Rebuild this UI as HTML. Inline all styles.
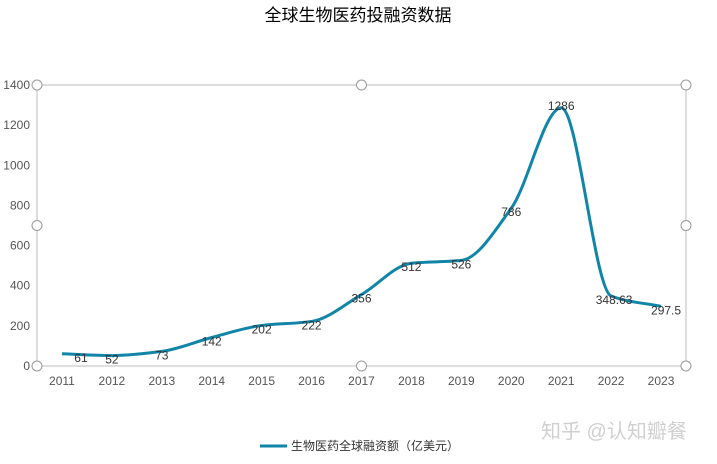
<!DOCTYPE html>
<html><head><meta charset="utf-8"><style>
body{margin:0;background:#fff;}
svg text{font-family:"Liberation Sans","Noto Sans CJK SC",sans-serif;}
</style></head><body>
<svg width="717" height="459" id="c">
<text x="358" y="21" text-anchor="middle" font-size="17" fill="#000">全球生物医药投融资数据</text>
<g id="axes"></g>
<path id="line" fill="none" stroke="#1185a8" stroke-width="3"/>
<g id="labels"></g>
<g>
<line x1="260" y1="446" x2="287" y2="446" stroke="#1185a8" stroke-width="3"/>
<text x="291" y="450" font-size="12" fill="#333">生物医药全球融资额（亿美元）</text>
</g>
<text x="541" y="438" font-size="20" fill="#d0d0d0">知乎 @认知瓣餐</text>
</svg>
<script>
const categories=["2011","2012","2013","2014","2015","2016","2017","2018","2019","2020","2021","2022","2023"];
const values=[61,52,73,142,202,222,356,512,526,786,1286,348.63,297.5];
const valueLabels=["61","52","73","142","202","222","356","512","526","786","1286","348.63","297.5"];
const yTicks=[0,200,400,600,800,1000,1200,1400];
const L=37,R=686,T=85,B=366,yMax=1400;
const ns="http://www.w3.org/2000/svg";
const bw=(R-L)/categories.length;
const xs=i=>L+bw*(i+0.5);
const ys=v=>B-(v/yMax)*(B-T);
function mk(t,a,p){const e=document.createElementNS(ns,t);for(const k in a)e.setAttribute(k,a[k]);p.appendChild(e);return e;}
const ax=document.getElementById('axes');
const frame=mk('rect',{x:L,y:T,width:R-L,height:B-T,fill:'none',stroke:'#bbb','stroke-width':1},ax);


yTicks.forEach(v=>{const t=mk('text',{x:L-7,y:ys(v)+4,'text-anchor':'end','font-size':12,fill:'#555'},ax);t.textContent=v;

});
categories.forEach((c,i)=>{const t=mk('text',{x:xs(i),y:385,'text-anchor':'middle','font-size':12,fill:'#555'},ax);t.textContent=c;

});
[[L,T],[(L+R)/2,T],[R,T],[L,(T+B)/2],[R,(T+B)/2],[L,B],[(L+R)/2,B],[R,B]].forEach(p=>{const h=mk('circle',{cx:p[0],cy:p[1],r:5,fill:'#fff',stroke:'#999','stroke-width':1},ax);

});
const pts=values.map((v,i)=>[xs(i),ys(v)]);
// monotone cubic (Fritsch-Carlson)
const n=pts.length,h=bw,sl=[],m=[];
for(let i=0;i<n-1;i++)sl.push((pts[i+1][1]-pts[i][1])/h);
for(let i=0;i<n;i++){
 if(i==0)m.push(sl[0]);else if(i==n-1)m.push(sl[n-2]);
 else if(sl[i-1]*sl[i]<=0)m.push(0);
 else m.push(2/(1/sl[i-1]+1/sl[i]));
}
let d='M'+pts[0][0]+','+pts[0][1];
for(let i=0;i<n-1;i++){const p1=pts[i],p2=pts[i+1];
d+=' C'+(p1[0]+h/3)+','+(p1[1]+m[i]*h/3)+' '+(p2[0]-h/3)+','+(p2[1]-m[i+1]*h/3)+' '+p2[0]+','+p2[1];}
document.getElementById('line').setAttribute('d',d);
const lg=document.getElementById('labels');
values.forEach((v,i)=>{const dx=i==0?19:(i==12?5:(i==11?3:0));const dy=(i==10)?2:8;const t=mk('text',{x:xs(i)+dx,y:ys(v)+dy,'text-anchor':'middle','font-size':12,fill:'#333'},lg);t.textContent=valueLabels[i];

});
</script>
</body></html>
